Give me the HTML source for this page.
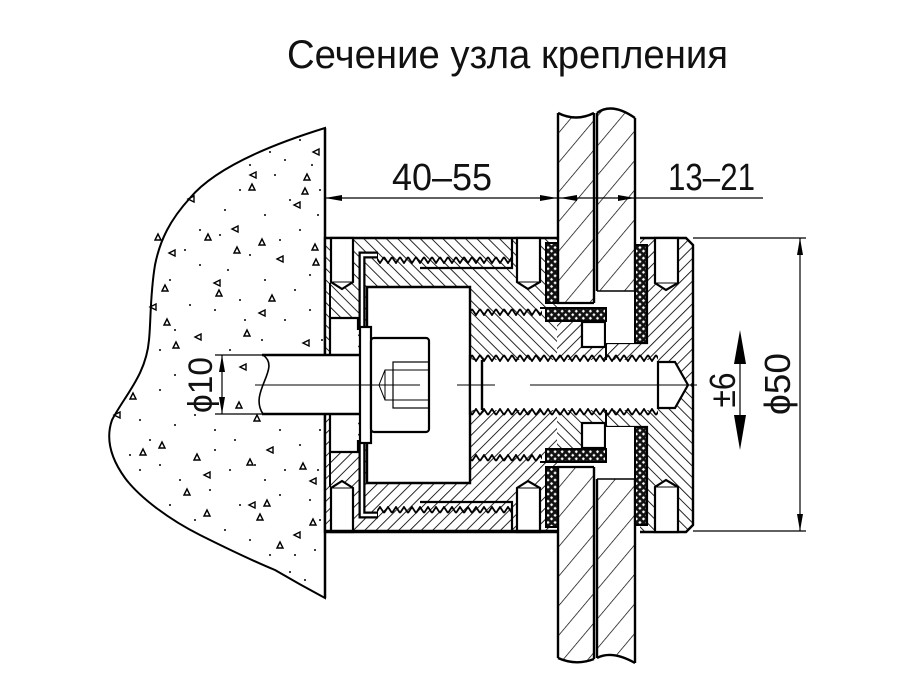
<!DOCTYPE html>
<html><head><meta charset="utf-8"><style>
html,body{margin:0;padding:0;background:#fff;}
svg{display:block;}
text{font-family:"Liberation Sans","DejaVu Sans",sans-serif;fill:#111;}
</style></head><body>
<svg width="900" height="700" viewBox="0 0 900 700" xmlns="http://www.w3.org/2000/svg">
<defs>
<pattern id="h1" width="8" height="8" patternUnits="userSpaceOnUse" patternTransform="rotate(45)"><rect width="8" height="8" fill="#fff"/><line x1="0" y1="0" x2="0" y2="8" stroke="#000" stroke-width="1.7"/></pattern>
<pattern id="h2" width="8" height="8" patternUnits="userSpaceOnUse" patternTransform="rotate(-45)"><rect width="8" height="8" fill="#fff"/><line x1="0" y1="0" x2="0" y2="8" stroke="#000" stroke-width="1.7"/></pattern>
<pattern id="gl" width="19" height="19" patternUnits="userSpaceOnUse" patternTransform="rotate(40)"><rect width="19" height="19" fill="#fff"/><line x1="0" y1="0" x2="0" y2="19" stroke="#000" stroke-width="1.4"/></pattern>
<pattern id="xx" width="5" height="5" patternUnits="userSpaceOnUse" patternTransform="rotate(45)"><rect width="5" height="5" fill="#111"/><rect x="1.4" y="1.4" width="2.3" height="2.3" fill="#fff"/></pattern>
<pattern id="zz" width="8" height="8" patternUnits="userSpaceOnUse"><path d="M0,1 L4,7 L8,1" fill="none" stroke="#000" stroke-width="1.8"/></pattern>
<pattern id="zz2" width="8" height="8" patternUnits="userSpaceOnUse"><path d="M0,7 L4,1 L8,7" fill="none" stroke="#000" stroke-width="1.8"/></pattern>

<g id="U">
  <rect x="325" y="238" width="232" height="147" fill="url(#h2)"/>
  <rect x="557" y="321" width="49" height="64" fill="url(#h1)"/>
  <path d="M640,238 H686 L693,245 V385 H606 V343 H647 V245 H640 Z" fill="url(#h1)"/>
  <path d="M640,238 H686 L693,245 V385" fill="none" stroke="#000" stroke-width="2.4"/>
  <path d="M647,245 V343 H606" fill="none" stroke="#000" stroke-width="2.2"/>
  <path d="M655,238 V283 L666,290 L678,283 V238 Z" fill="#fff" stroke="#000" stroke-width="2.2"/>
  <line x1="655" y1="283" x2="678" y2="283" stroke="#000" stroke-width="1"/>
  <path d="M325,385 V238 H557" fill="none" stroke="#000" stroke-width="2.4"/>
  <line x1="330" y1="283" x2="330" y2="318" stroke="#000" stroke-width="2"/>
  <path d="M331,238 V282 L342,289 L353,282 V238 Z" fill="#fff" stroke="#000" stroke-width="2.2"/>
  <line x1="331" y1="282" x2="353" y2="282" stroke="#000" stroke-width="1"/>
  <path d="M517,238 V282 L528,289 L540,282 V238 Z" fill="#fff" stroke="#000" stroke-width="2.2"/>
  <line x1="517" y1="282" x2="540" y2="282" stroke="#000" stroke-width="1"/>
  <path d="M330,385 V318 H358 V385 Z" fill="#fff"/>
  <path d="M330,385 V318 H358 V330" fill="none" stroke="#000" stroke-width="2.2"/>
  <path d="M367,385 V287 H470 V385 Z" fill="#fff"/>
  <path d="M367,385 V287 H470 V385" fill="none" stroke="#000" stroke-width="2.4"/>
  <path d="M362,328 V255 H378" fill="none" stroke="#000" stroke-width="7"/>
  <path d="M362,328 V255 H377" fill="none" stroke="#fff" stroke-width="2.5"/>
  <path d="M420,268 H512 V238" fill="none" stroke="#000" stroke-width="2.2"/>
  <g transform="translate(0,256)"><rect x="377" y="0" width="135" height="8" fill="url(#zz)"/></g>
  <g transform="translate(0,308)"><rect x="470" y="0" width="72" height="8" fill="url(#zz)"/></g>
  <line x1="540" y1="308" x2="546" y2="308" stroke="#000" stroke-width="2"/>
  <rect x="582" y="322" width="23" height="25" fill="#fff" stroke="#000" stroke-width="2.2"/>
  <line x1="606" y1="321" x2="606" y2="360" stroke="#000" stroke-width="2"/>
  <rect x="606" y="291" width="29" height="52" fill="#fff"/>
  <rect x="546" y="243" width="12" height="60" fill="url(#xx)" stroke="#000" stroke-width="2"/>
  <rect x="546" y="308" width="60" height="13" fill="url(#xx)" stroke="#000" stroke-width="2"/>
  <rect x="635" y="245" width="12" height="98" fill="url(#xx)" stroke="#000" stroke-width="2"/>
  <line x1="557" y1="303" x2="594" y2="303" stroke="#000" stroke-width="2.2"/>
  <line x1="597" y1="291" x2="635" y2="291" stroke="#000" stroke-width="1.6"/>
</g>
</defs>

<text x="287" y="68" font-size="40" textLength="441" lengthAdjust="spacingAndGlyphs">Сечение узла крепления</text>

<path d="M325,128 C270,145 215,168 190,198 C170,220 160,240 155,265 C150,295 151,320 149,340 C146,375 125,395 112,420 C105,440 112,460 125,478 C140,498 170,520 200,535 C230,550 258,563 275,570 C292,580 310,590 325,598 Z" fill="#fff" stroke="#000" stroke-width="2"/>
<g fill="#000">
<circle cx="300" cy="140" r="1"/><circle cx="285" cy="160" r="1"/><circle cx="270" cy="152" r="1"/><circle cx="290" cy="200" r="1"/><circle cx="318" cy="215" r="1"/><circle cx="265" cy="215" r="1"/><circle cx="240" cy="190" r="1"/><circle cx="225" cy="210" r="1"/><circle cx="300" cy="230" r="1"/><circle cx="280" cy="240" r="1"/><circle cx="250" cy="255" r="1"/><circle cx="228" cy="270" r="1"/><circle cx="200" cy="265" r="1"/><circle cx="185" cy="250" r="1"/><circle cx="170" cy="280" r="1"/><circle cx="310" cy="275" r="1"/><circle cx="295" cy="290" r="1"/><circle cx="240" cy="300" r="1"/><circle cx="215" cy="310" r="1"/><circle cx="190" cy="305" r="1"/><circle cx="175" cy="330" r="1"/><circle cx="285" cy="320" r="1"/><circle cx="310" cy="310" r="1"/><circle cx="262" cy="340" r="1"/><circle cx="230" cy="350" r="1"/><circle cx="205" cy="360" r="1"/><circle cx="175" cy="375" r="1"/><circle cx="160" cy="390" r="1"/><circle cx="140" cy="420" r="1"/><circle cx="150" cy="440" r="1"/><circle cx="175" cy="425" r="1"/><circle cx="195" cy="415" r="1"/><circle cx="215" cy="430" r="1"/><circle cx="235" cy="440" r="1"/><circle cx="280" cy="430" r="1"/><circle cx="300" cy="445" r="1"/><circle cx="320" cy="430" r="1"/><circle cx="285" cy="470" r="1"/><circle cx="265" cy="480" r="1"/><circle cx="230" cy="470" r="1"/><circle cx="210" cy="490" r="1"/><circle cx="180" cy="480" r="1"/><circle cx="160" cy="465" r="1"/><circle cx="140" cy="470" r="1"/><circle cx="170" cy="505" r="1"/><circle cx="195" cy="520" r="1"/><circle cx="225" cy="530" r="1"/><circle cx="250" cy="540" r="1"/><circle cx="270" cy="555" r="1"/><circle cx="295" cy="555" r="1"/><circle cx="315" cy="550" r="1"/><circle cx="305" cy="580" r="1"/><circle cx="290" cy="572" r="1"/><circle cx="240" cy="505" r="1"/><circle cx="280" cy="495" r="1"/><circle cx="310" cy="500" r="1"/><circle cx="255" cy="465" r="1"/><circle cx="215" cy="450" r="1"/><circle cx="300" cy="405" r="1"/><circle cx="280" cy="395" r="1"/><circle cx="310" cy="370" r="1"/><circle cx="245" cy="320" r="1"/><circle cx="265" cy="280" r="1"/><circle cx="200" cy="230" r="1"/><circle cx="220" cy="235" r="1"/><circle cx="250" cy="165" r="1"/><circle cx="275" cy="175" r="1"/><circle cx="312" cy="165" r="1"/><circle cx="160" cy="350" r="1"/><circle cx="130" cy="455" r="1"/><circle cx="320" cy="190" r="1"/><circle cx="322" cy="340" r="1"/><circle cx="318" cy="470" r="1"/><circle cx="320" cy="520" r="1"/>
</g>
<g fill="none" stroke="#000" stroke-width="1.4">
<path d="M316,152 m3,-3 v6 l-6,-3z"/><path d="M253,175 m3,-3 v6 l-6,-3z"/><path d="M252,187 m-3,3 l3,-6 3,6z"/><path d="M307,177 m-3,3 l3,-6 3,6z"/><path d="M305,191 m-3,3 l3,-6 3,6z"/><path d="M297,205 m3,-3 v6 l-6,-3z"/><path d="M191,199 m3,-3 v6 l-6,-3z"/><path d="M235,229 m3,-3 v6 l-6,-3z"/><path d="M208,237 m-3,3 l3,-6 3,6z"/><path d="M237,250 m-3,3 l3,-6 3,6z"/><path d="M262,242 m-3,3 l3,-6 3,6z"/><path d="M280,259 m3,-3 v6 l-6,-3z"/><path d="M315,247 m-3,3 l3,-6 3,6z"/><path d="M316,262 m-3,3 l3,-6 3,6z"/><path d="M172,253 m3,-3 v6 l-6,-3z"/><path d="M158,237 m-3,3 l3,-6 3,6z"/><path d="M217,283 m3,-3 v6 l-6,-3z"/><path d="M219,293 m-3,3 l3,-6 3,6z"/><path d="M272,298 m-3,3 l3,-6 3,6z"/><path d="M165,288 m-3,3 l3,-6 3,6z"/><path d="M167,322 m-3,3 l3,-6 3,6z"/><path d="M262,313 m3,-3 v6 l-6,-3z"/><path d="M153,307 m3,-3 v6 l-6,-3z"/><path d="M247,333 m-3,3 l3,-6 3,6z"/><path d="M198,337 m3,-3 v6 l-6,-3z"/><path d="M176,345 m-3,3 l3,-6 3,6z"/><path d="M306,343 m3,-3 v6 l-6,-3z"/><path d="M133,396 m-3,3 l3,-6 3,6z"/><path d="M117,415 m3,-3 v6 l-6,-3z"/><path d="M143,452 m-3,3 l3,-6 3,6z"/><path d="M162,445 m-3,3 l3,-6 3,6z"/><path d="M197,457 m-3,3 l3,-6 3,6z"/><path d="M207,475 m3,-3 v6 l-6,-3z"/><path d="M187,492 m-3,3 l3,-6 3,6z"/><path d="M207,513 m-3,3 l3,-6 3,6z"/><path d="M250,462 m-3,3 l3,-6 3,6z"/><path d="M270,450 m3,-3 v6 l-6,-3z"/><path d="M303,466 m-3,3 l3,-6 3,6z"/><path d="M313,481 m3,-3 v6 l-6,-3z"/><path d="M252,505 m3,-3 v6 l-6,-3z"/><path d="M267,503 m-3,3 l3,-6 3,6z"/><path d="M260,517 m-3,3 l3,-6 3,6z"/><path d="M313,522 m-3,3 l3,-6 3,6z"/><path d="M297,535 m3,-3 v6 l-6,-3z"/><path d="M239,405 m-3,3 l3,-6 3,6z"/><path d="M243,367 m3,-3 v6 l-6,-3z"/><path d="M257,418 m-3,3 l3,-6 3,6z"/><path d="M280,545 m-3,3 l3,-6 3,6z"/>
</g>
<line x1="325" y1="128" x2="325" y2="598" stroke="#000" stroke-width="2.5"/>

<path d="M558,113 Q576,122 594,113 V303 H558 Z" fill="url(#gl)"/>
<path d="M597,113 Q612,102 635,118 V291 H597 Z" fill="url(#gl)"/>
<path d="M558,467 H594 V659 Q576,666 558,658 Z" fill="url(#gl)"/>
<path d="M597,479 H635 V663 Q612,650 597,658 Z" fill="url(#gl)"/>
<g fill="none" stroke="#000" stroke-width="2.4">
<path d="M558,113 Q576,122 594,113"/><path d="M597,113 Q612,102 635,118"/>
<path d="M558,658 Q576,666 594,659"/><path d="M597,658 Q612,650 635,663"/>
<line x1="558" y1="113" x2="558" y2="303"/><line x1="594" y1="113" x2="594" y2="303"/>
<line x1="597" y1="113" x2="597" y2="291"/><line x1="635" y1="118" x2="635" y2="291"/>
<line x1="558" y1="467" x2="558" y2="658"/><line x1="594" y1="467" x2="594" y2="659"/>
<line x1="597" y1="479" x2="597" y2="658"/><line x1="635" y1="479" x2="635" y2="663"/>
</g>

<use href="#U"/>
<use href="#U" transform="matrix(1 0 0 -1 0 770)"/>
<line x1="325" y1="531" x2="557" y2="531" stroke="#000" stroke-width="2.4"/>

<rect x="470" y="360" width="188" height="50" fill="#fff"/>
<path d="M658,362 H675 L688,385 L675,408 H658 Z" fill="#fff" stroke="#000" stroke-width="2.2"/>
<g transform="translate(0,354)"><rect x="470" y="0" width="188" height="8" fill="url(#zz)"/></g>
<g transform="translate(0,408)"><rect x="470" y="0" width="188" height="8" fill="url(#zz2)"/></g>
<line x1="482" y1="360" x2="482" y2="410" stroke="#000" stroke-width="2.4"/>
<line x1="470" y1="355" x2="470" y2="415" stroke="#000" stroke-width="2.2"/>

<rect x="262" y="355" width="98" height="59" fill="#fff"/>
<line x1="262" y1="355" x2="360" y2="355" stroke="#000" stroke-width="2.4"/>
<line x1="262" y1="414" x2="360" y2="414" stroke="#000" stroke-width="2.4"/>
<path d="M263,355 C282,368 248,392 263,414" fill="none" stroke="#000" stroke-width="1.6"/>
<rect x="360" y="327" width="11" height="116" fill="#fff" stroke="#000" stroke-width="2.2"/>
<rect x="371" y="338" width="58" height="94" rx="3" fill="#fff" stroke="#000" stroke-width="2.2"/>
<rect x="393" y="362" width="36" height="46" fill="none" stroke="#000" stroke-width="1.2"/>
<path d="M429,370 H385 L379,385 L385,400 H429 M385,370 V400" fill="none" stroke="#000" stroke-width="1"/>

<g stroke="#000" stroke-width="1">
<line x1="255" y1="385" x2="420" y2="385"/><line x1="457" y1="385" x2="495" y2="385"/><line x1="530" y1="385" x2="697" y2="385"/>
</g>

<g stroke="#000" stroke-width="1.2">
<line x1="325" y1="198" x2="763" y2="198"/>
<line x1="693" y1="238" x2="806" y2="238"/>
<line x1="693" y1="531" x2="806" y2="531"/>
<line x1="800" y1="238" x2="800" y2="531"/>
<line x1="740" y1="335" x2="740" y2="445"/>
<line x1="215" y1="355" x2="262" y2="355"/>
<line x1="215" y1="414" x2="262" y2="414"/>
<line x1="222" y1="355" x2="222" y2="414"/>
</g>
<g fill="#000">
<polygon points="325,198 342,195 342,201"/>
<polygon points="557,198 540,195 540,201"/>
<polygon points="560,198 577,195 577,201"/>
<polygon points="635,198 618,195 618,201"/>
<polygon points="800,238 797,255 803,255"/>
<polygon points="800,531 797,514 803,514"/>
<polygon points="740,330 734,364 746,364"/>
<polygon points="740,450 734,415 746,415"/>
<polygon points="222,355 219,372 225,372"/>
<polygon points="222,414 219,397 225,397"/>
</g>
<text x="392" y="190" font-size="38" textLength="100" lengthAdjust="spacingAndGlyphs">40–55</text>
<text x="668" y="190" font-size="38" textLength="87" lengthAdjust="spacingAndGlyphs">13–21</text>
<text transform="translate(212,385) rotate(-90)" font-size="34" text-anchor="middle" textLength="56" lengthAdjust="spacingAndGlyphs">ϕ10</text>
<text transform="translate(790,384) rotate(-90)" font-size="36" text-anchor="middle" textLength="62" lengthAdjust="spacingAndGlyphs">ϕ50</text>
<text transform="translate(735,390) rotate(-90)" font-size="36" text-anchor="middle" textLength="35" lengthAdjust="spacingAndGlyphs">±6</text>
</svg>
</body></html>
